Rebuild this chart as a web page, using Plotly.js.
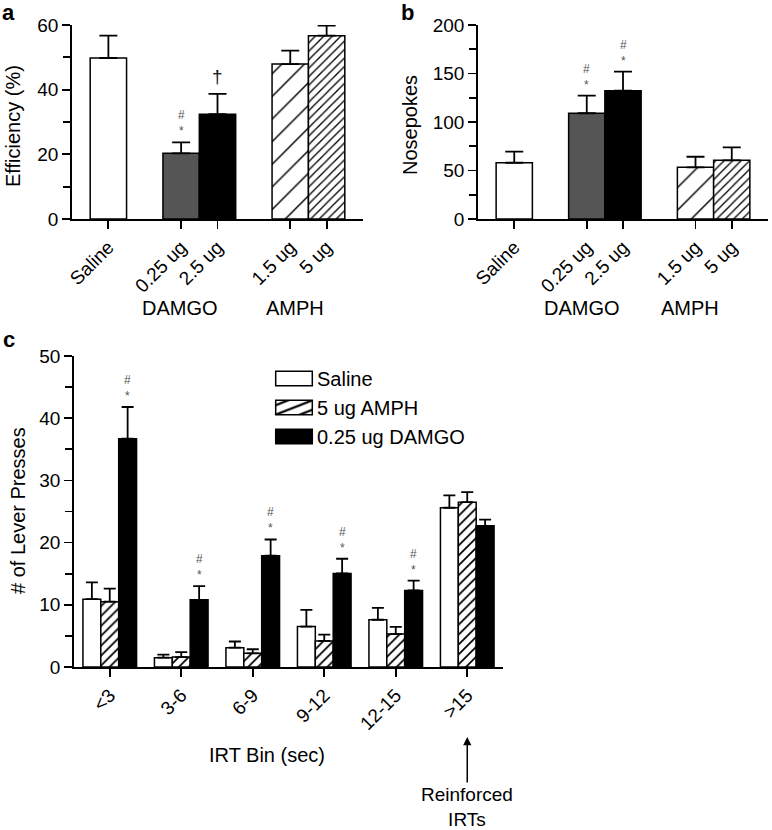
<!DOCTYPE html>
<html><head><meta charset="utf-8">
<script src="https://cdn.plot.ly/plotly-3.0.1.min.js"></script>
<style>html,body{margin:0;padding:0;background:#fff}</style>
</head><body><div id="chart" style="width:772px;height:830px"></div>
<script>
// ---- data ----
const treatments = ["Saline", "0.25 ug", "2.5 ug", "1.5 ug", "5 ug"];
const efficiencyMean = [49.8, 20.3, 32.4, 47.9, 56.7];
const efficiencySem  = [6.9, 3.4, 6.3, 4.2, 3.1];
const efficiencySig  = ["", "#*", "†", "", ""];
const nosepokesMean = [58.0, 109.0, 132.3, 53.3, 60.5];
const nosepokesSem  = [11.4, 18.1, 19.6, 10.9, 13.4];
const nosepokesSig  = ["", "#*", "#*", "", ""];
const irtBins = ["<3", "3-6", "6-9", "9-12", "12-15", ">15"];
const salineMean = [10.9, 1.5, 3.1, 6.5, 7.6, 25.6];
const salineSem  = [2.7, 0.5, 1.0, 2.7, 1.9, 2.0];
const amphMean = [10.5, 1.6, 2.2, 4.2, 5.3, 26.5];
const amphSem  = [2.1, 0.8, 0.65, 1.0, 1.15, 1.6];
const damgoMean = [36.7, 10.8, 17.9, 15.05, 12.3, 22.7];
const damgoSem  = [5.1, 2.2, 2.6, 2.35, 1.6, 1.0];
const damgoSig  = ["#*", "#*", "#*", "#*", "#*", ""];
const seriesNames = ["Saline", "5 ug AMPH", "0.25 ug DAMGO"];

// ---- layout helpers ----
const W = 772, H = 830;
const px = x => x / W, py = y => 1 - y / H;
const FONT = '"Liberation Sans", Arial, Helvetica, sans-serif';
const abSlots = ["Saline", " ", "0.25 ug", "2.5 ug", "  ", "1.5 ug", "5 ug"];
const abColors = ["#ffffff", "#555555", "#000000", "#ffffff", "#ffffff"];
const abShapes = ["", "", "", "/", "/"];
const abSizes = [8, 8, 8, 16, 6];
const abSolid = [0.2, 0.2, 0.2, 0.09, 0.22];

const errStyle = (arr, w) => ({type: 'data', symmetric: false, array: arr, arrayminus: arr.map(() => 0),
  color: '#000', thickness: 1.8, width: w, visible: true});

function abTraces(mean, sem, xa, ya) {
  return treatments.map((t, i) => {
    const marker = {color: abColors[i], line: {color: '#000', width: 1.5}};
    if (abShapes[i]) marker.pattern = {shape: abShapes[i], size: abSizes[i], solidity: abSolid[i],
      fgcolor: '#000', bgcolor: '#fff', fillmode: 'replace'};
    return {type: 'bar', x: [t], y: [mean[i]], xaxis: xa, yaxis: ya, width: 1, showlegend: false,
      offsetgroup: 'g' + xa, marker, error_y: errStyle([sem[i]], 9), hoverinfo: 'none'};
  });
}

const traces = [].concat(
  abTraces(efficiencyMean, efficiencySem, 'x', 'y'),
  abTraces(nosepokesMean, nosepokesSem, 'x2', 'y2'),
  [
  {type: 'bar', name: seriesNames[0], x: irtBins, y: salineMean, xaxis: 'x3', yaxis: 'y3',
    marker: {color: '#fff', line: {color: '#000', width: 1.5}}, error_y: errStyle(salineSem, 6)},
  {type: 'bar', name: seriesNames[1], x: irtBins, y: amphMean, xaxis: 'x3', yaxis: 'y3',
    marker: {color: '#fff', line: {color: '#000', width: 1.5},
      pattern: {shape: '/', size: 7, solidity: 0.25, fgcolor: '#000', bgcolor: '#fff'}}, error_y: errStyle(amphSem, 6)},
  {type: 'bar', name: seriesNames[2], x: irtBins, y: damgoMean, xaxis: 'x3', yaxis: 'y3',
    marker: {color: '#000', line: {color: '#000', width: 1.5}}, error_y: errStyle(damgoSem, 6)}
  ]
);

const ax = {showline: true, linecolor: '#000', linewidth: 1.8, ticks: 'outside', ticklen: 8, tickwidth: 1.8,
  tickcolor: '#000', showgrid: false, zeroline: false, automargin: false, fixedrange: true,
  tickfont: {family: FONT, size: 19, color: '#000'}};
const minor = d => ({ticks: 'outside', ticklen: 7, tickwidth: 1.8, tickcolor: '#000', dtick: d, showgrid: false});

const annotations = [];
function addSig(xs, mean, sem, sig, xref, yref, xoff) {
  xs.forEach((c, i) => {
    if (!sig[i]) return;
    const top = mean[i] + sem[i];
    const dag = sig[i] === '†';
    annotations.push({x: xoff(c, i), y: top, xref, yref, showarrow: false,
      text: dag ? '†' : sig[i].split('').join('<br>'),
      yanchor: dag ? 'middle' : 'bottom', yshift: dag ? 17 : 2,
      font: {family: FONT, size: dag ? 19 : 12, color: dag ? '#111' : '#555'}});
  });
}
addSig(treatments, efficiencyMean, efficiencySem, efficiencySig, 'x', 'y', c => abSlots.indexOf(c));
addSig(treatments, nosepokesMean, nosepokesSem, nosepokesSig, 'x2', 'y2', c => abSlots.indexOf(c));
addSig(irtBins, damgoMean, damgoSem, damgoSig, 'x3', 'y3', (c, i) => i + 0.25);

const txt = (text, x, y, o) => Object.assign({text, x: px(x), y: py(y), xref: 'paper', yref: 'paper',
  showarrow: false, xanchor: 'center', yanchor: 'middle', font: {family: FONT, size: 20, color: '#000'}}, o || {});
annotations.push(
  txt('<b>a</b>', 8, 12, {font: {family: FONT, size: 22, color: '#000'}}),
  txt('<b>b</b>', 407, 12, {font: {family: FONT, size: 22, color: '#000'}}),
  txt('<b>c</b>', 9, 339, {font: {family: FONT, size: 22, color: '#000'}}),
  txt('Efficiency (%)', 13, 126, {textangle: -90}),
  txt('Nosepokes', 410, 125, {textangle: -90}),
  txt('# of Lever Presses', 18, 511, {textangle: -90}),
  txt('DAMGO', 180, 308),
  txt('AMPH', 295, 308),
  txt('DAMGO', 582, 308),
  txt('AMPH', 690, 308),
  txt('IRT Bin (sec)', 267, 755),
  {x: irtBins.length - 1, xref: 'x3', y: py(737), yref: 'paper', text: 'Reinforced<br>IRTs',
    showarrow: true, ax: 0, ay: 70, arrowhead: 2, arrowsize: 1.1, arrowwidth: 1.5, arrowcolor: '#000',
    font: {family: FONT, size: 19, color: '#000'}, align: 'center'}
);

const layout = {
  width: W, height: H, margin: {l: 0, r: 0, t: 0, b: 0},
  paper_bgcolor: '#fff', plot_bgcolor: 'rgba(0,0,0,0)',
  font: {family: FONT, size: 19, color: '#000'},
  barmode: 'group', bargap: 0.25, bargroupgap: 0,
  showlegend: true,
  legend: {x: px(274), y: py(359), xanchor: 'left', yanchor: 'top', bgcolor: 'rgba(0,0,0,0)',
    font: {family: FONT, size: 20, color: '#000'}, tracegroupgap: 0, itemclick: false},
  xaxis: Object.assign({}, ax, {domain: [px(72), px(363)], type: 'category', categoryorder: 'array',
    categoryarray: abSlots, tickmode: 'array', tickvals: treatments, range: [-1, 7], tickangle: -45, anchor: 'y'}),
  yaxis: Object.assign({}, ax, {domain: [py(219), py(25)], range: [0, 60], dtick: 20, minor: minor(10), anchor: 'x'}),
  xaxis2: Object.assign({}, ax, {domain: [px(478), px(768)], type: 'category', categoryorder: 'array',
    categoryarray: abSlots, tickmode: 'array', tickvals: treatments, range: [-1, 7], tickangle: -45, anchor: 'y2'}),
  yaxis2: Object.assign({}, ax, {domain: [py(219), py(25)], range: [0, 200], dtick: 50, minor: minor(25), anchor: 'x2'}),
  xaxis3: Object.assign({}, ax, {domain: [px(74), px(503)], type: 'category', range: [-0.5, 5.5], tickangle: -45, anchor: 'y3'}),
  yaxis3: Object.assign({}, ax, {domain: [py(667), py(356)], range: [0, 50], dtick: 10, minor: minor(5), anchor: 'x3'}),
  annotations
};

Plotly.newPlot('chart', traces, layout, {displayModeBar: false, staticPlot: true}).then(gd => {
  gd.querySelectorAll('.legend .legendpoints path').forEach(p => {
    const t = p.getAttribute('transform') || '';
    p.setAttribute('transform', t + ' scale(3.05,1.2)');
    p.setAttribute('vector-effect', 'non-scaling-stroke');
    p.style.vectorEffect = 'non-scaling-stroke';
  });
  gd.querySelectorAll('.legend text.legendtext').forEach(t => {
    t.setAttribute('x', (parseFloat(t.getAttribute('x')) || 0) + 3);
  });
});
</script></body></html>
